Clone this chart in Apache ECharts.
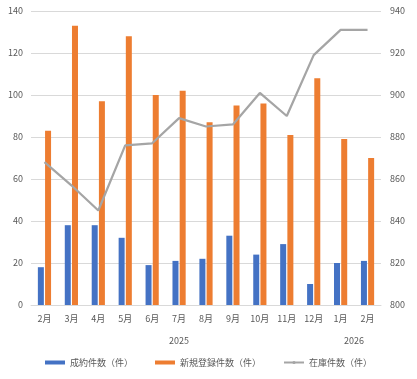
<!DOCTYPE html>
<html><head><meta charset="utf-8">
<script src="https://cdn.jsdelivr.net/npm/echarts@6/dist/echarts.min.js"></script>
<style>html,body{margin:0;padding:0;background:#fff}#c{width:417px;height:379px}</style>
</head><body><div id="c"></div>
<script>
const months = ['2月','3月','4月','5月','6月','7月','8月','9月','10月','11月','12月','1月','2月'];
const yearLabels = ['2025','2026'];
const yearStart = [0, 11];
const yearEnd = [10, 12];
const seiyaku = [18,38,38,32,19,21,22,33,24,29,10,20,21];
const shinki = [83,133,97,128,100,102,87,95,96,81,108,79,70];
const zaiko = [868,857,845,876,877,889,885,886,901,890,919,931,931];
const leftTicks = {min:0, max:140, interval:20};
const rightTicks = {min:800, max:940, interval:20};

const font = '"Noto Sans CJK JP", sans-serif';
const txt = '#595959';
const yearCenters = yearLabels.map((_, i) => (yearStart[i] + yearEnd[i]) / 2);

const chart = echarts.init(document.getElementById('c'));
chart.setOption({
  animation: false,
  textStyle: {fontFamily: font},
  grid: {left: 31, right: 36, top: 11, bottom: 74, containLabel: false},
  legend: {
    bottom: 7, left: 'center', itemGap: 22, itemWidth: 20, itemHeight: 4,
    textStyle: {fontSize: 9, color: txt, fontFamily: font},
    data: [
      {name: '成約件数（件）', icon: 'rect'},
      {name: '新規登録件数（件）', icon: 'rect'},
      {name: '在庫件数（件）'}
    ]
  },
  xAxis: [{
    type: 'category', data: months,
    axisLine: {show: true, lineStyle: {color: '#D9D9D9'}},
    axisTick: {show: false},
    axisLabel: {color: txt, fontSize: 9, margin: 9, interval: 0}
  }, {
    type: 'value', min: -0.5, max: months.length - 0.5, position: 'bottom', offset: 23,
    axisLine: {show: false}, axisTick: {show: false}, splitLine: {show: false},
    axisLabel: {
      color: txt, fontSize: 9, margin: 8,
      customValues: yearCenters,
      formatter: v => { const i = yearCenters.indexOf(v); return i >= 0 ? yearLabels[i] : ''; }
    }
  }],
  yAxis: [{
    type: 'value', min: leftTicks.min, max: leftTicks.max, interval: leftTicks.interval,
    axisLine: {show: false}, axisTick: {show: false},
    axisLabel: {color: txt, fontSize: 9, margin: 8},
    splitLine: {lineStyle: {color: '#D9D9D9'}}
  }, {
    type: 'value', min: rightTicks.min, max: rightTicks.max, interval: rightTicks.interval,
    axisLine: {show: false}, axisTick: {show: false},
    axisLabel: {color: txt, fontSize: 9, margin: 9},
    splitLine: {show: false}
  }],
  series: [{
    name: '成約件数（件）', type: 'bar', data: seiyaku, barWidth: 6, barGap: '20%',
    itemStyle: {color: '#4472C4'}
  }, {
    name: '新規登録件数（件）', type: 'bar', data: shinki, barWidth: 6, barGap: '20%',
    itemStyle: {color: '#ED7D31'}
  }, {
    name: '在庫件数（件）', type: 'line', yAxisIndex: 1, data: zaiko,
    symbol: 'none', lineStyle: {color: '#A5A5A5', width: 2.25}, itemStyle: {color: '#A5A5A5'}
  }]
});
</script></body></html>
